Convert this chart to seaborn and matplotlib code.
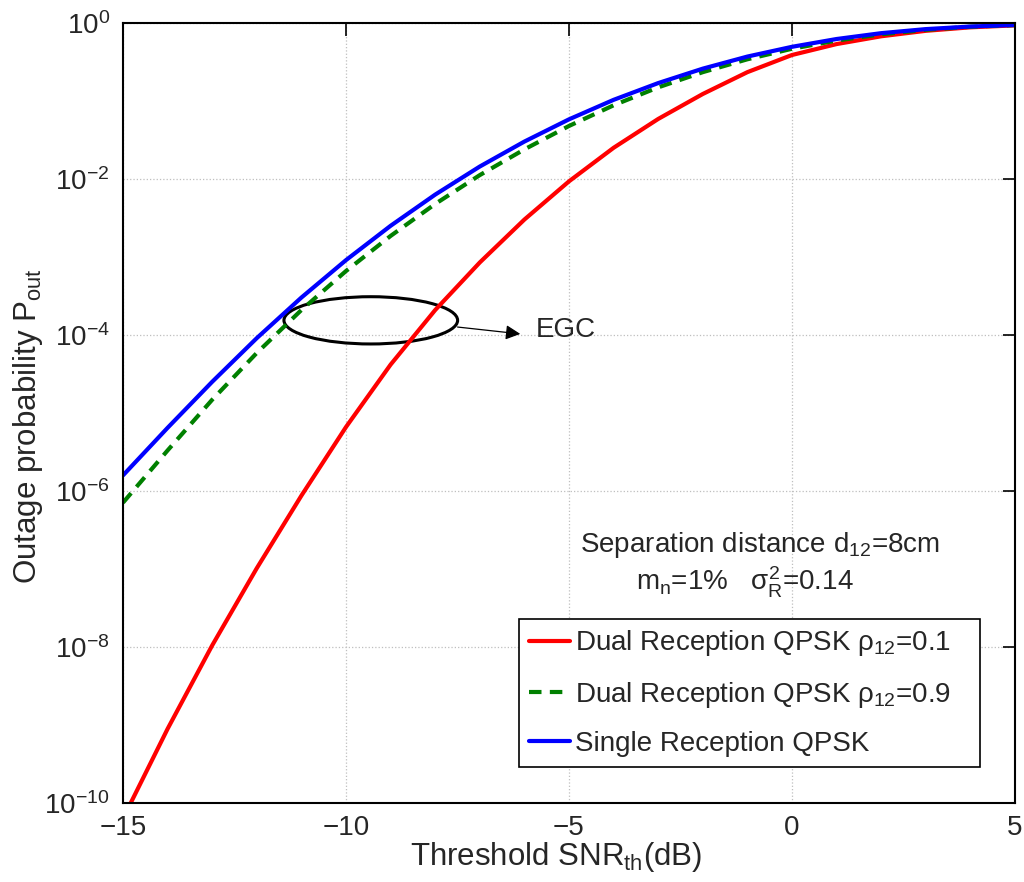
import numpy as np
import pandas as pd
import seaborn as sns
import matplotlib.pyplot as plt
from matplotlib.patches import Ellipse
from matplotlib.ticker import LogFormatterSciNotation

# threshold SNR (dB) and log10 of outage probability
snr_db = [-15, -14, -13, -12, -11, -10, -9, -8, -7, -6, -5,
          -4, -3, -2, -1, 0, 1, 2, 3, 4, 5]

log_p_dual_01 = [-10.20, -9.05, -7.98, -6.99, -6.06, -5.18, -4.38, -3.68, -3.07, -2.52, -2.03,
                 -1.60, -1.23, -0.91, -0.63, -0.41, -0.27, -0.17, -0.10, -0.055, -0.03]
log_p_dual_09 = [-6.15, -5.48, -4.83, -4.23, -3.68, -3.18, -2.73, -2.32, -1.95, -1.62, -1.32,
                 -1.055, -0.825, -0.63, -0.465, -0.33, -0.225, -0.145, -0.087, -0.048, -0.026]
log_p_single = [-5.80, -5.19, -4.60, -4.04, -3.52, -3.04, -2.60, -2.20, -1.84, -1.52, -1.235,
                -0.985, -0.77, -0.585, -0.43, -0.305, -0.205, -0.13, -0.078, -0.045, -0.025]

labels = ['Dual Reception QPSK $\\rho_{12}$=0.1',
          'Dual Reception QPSK $\\rho_{12}$=0.9',
          'Single Reception QPSK']
colors = ['#ff0000', '#008000', '#0000ff']

sns.set_theme(style='white')
plt.rcParams['font.family'] = ['Liberation Sans', 'DejaVu Sans']
plt.rcParams['mathtext.fontset'] = 'custom'
plt.rcParams['mathtext.rm'] = 'Liberation Sans'
plt.rcParams['mathtext.it'] = 'Liberation Sans'
plt.rcParams['mathtext.sf'] = 'Liberation Sans'

fig = plt.figure(figsize=(10.24, 8.82), dpi=100)
ax = fig.add_axes([0.1201, 0.0896, 0.8711, 0.8843])

series = [log_p_dual_01, log_p_dual_09, log_p_single]
for vals, lab, col in zip(series, labels, colors):
    df = pd.DataFrame({'snr': snr_db, 'p': 10.0 ** np.array(vals)})
    sns.lineplot(data=df, x='snr', y='p', ax=ax, color=col, lw=3, label=lab)
ax.lines[1].set_dashes([3, 2])

ax.set_yscale('log')
ax.set_xlim(-15, 5)
ax.set_ylim(1e-10, 1)
ax.set_xticks([-15, -10, -5, 0, 5])
ax.set_xticklabels(['\u221215', '\u221210', '\u22125', '0', '5'])
ax.set_yticks([10.0 ** k for k in range(-10, 1, 2)])
ax.yaxis.set_major_formatter(LogFormatterSciNotation())
ax.minorticks_off()
ax.tick_params(direction='in', top=True, right=True, length=9, width=1.2,
               labelsize=20, color='black')
ax.tick_params(axis='x', pad=9)
ax.tick_params(axis='y', pad=9.5)
for sp in ax.spines.values():
    sp.set_color('black')
    sp.set_linewidth(1.5)
ax.grid(True, linestyle=':', color='0.75', lw=0.9)

ax.set_xlabel('Threshold SNR$_{\\mathrm{th}}$(dB)', fontsize=22.5)
ax.set_ylabel('Outage probability P$_{\\mathrm{out}}$', fontsize=22.5)
ax.xaxis.set_label_coords(0.4854, -0.048)
ax.yaxis.set_label_coords(-0.0874, 0.483)

# EGC marker
ax.add_patch(Ellipse((0.2778, 0.6188), 0.1947, 0.0606, transform=ax.transAxes,
                     fill=False, ec='black', lw=2.2))
ax.annotate('', xy=(-6.03, 10 ** -3.99), xytext=(-7.56, 10 ** -3.894),
            arrowprops=dict(arrowstyle='-|>', color='black', lw=0.9,
                            mutation_scale=22))
ax.text(-5.74, 10 ** -3.94, 'EGC', fontsize=20, va='center', ha='left')

ax.text(0.714, 0.322, 'Separation distance d$_{12}$=8cm', transform=ax.transAxes,
        fontsize=20, ha='center', va='baseline')
ax.text(0.697, 0.273, 'm$_\\mathrm{n}$=1%   $\\sigma^2_\\mathrm{R}$=0.14', transform=ax.transAxes,
        fontsize=20, ha='center', va='baseline')

leg = ax.legend(loc='lower left', bbox_to_anchor=(0.444, 0.0462, 0.517, 0.1),
                mode='expand', fontsize=20,
                frameon=True, fancybox=False, framealpha=1, edgecolor='black',
                handlelength=1.5, handletextpad=0.18, labelspacing=0.77,
                borderpad=0.35, borderaxespad=0)
leg.get_frame().set_linewidth(1.2)

fig.savefig('out.png', dpi=100)
